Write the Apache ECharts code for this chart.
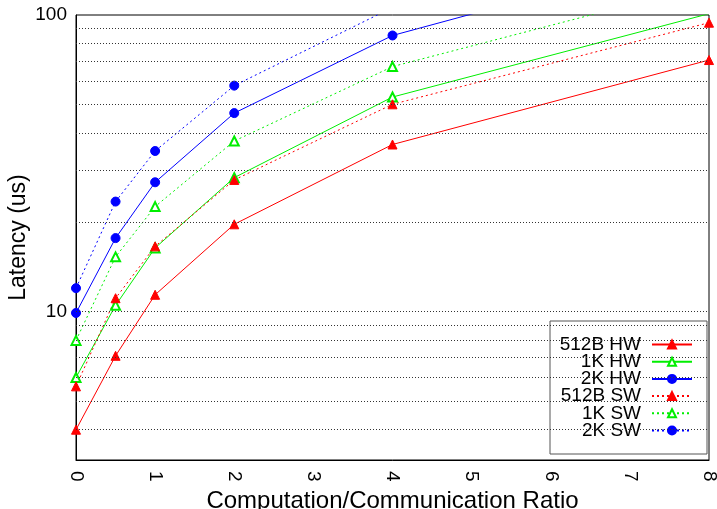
<!DOCTYPE html>
<html>
<head>
<meta charset="utf-8">
<script src="https://cdn.jsdelivr.net/npm/echarts@6/dist/echarts.min.js"></script>
<style>html,body{margin:0;padding:0;background:#fff;}#c{width:717px;height:509px;}</style>
</head>
<body>
<div id="c"></div>
<script>
// Data
const xValues = [0, 0.5, 1, 2, 4, 8];
const xTicks = [0, 1, 2, 3, 4, 5, 6, 7, 8];
const yGridValues = [4, 5, 6, 7, 8, 9, 10, 20, 30, 40, 50, 60, 70, 80, 90];
const seriesNames = ['512B HW', '1K HW', '2K HW', '512B SW', '1K SW', '2K SW'];
const hw512 = [4.0, 7.1, 11.4, 19.7, 36.6, 70.5];
const hw1k = [6.0, 10.5, 16.4, 28.3, 52.9, 101];
const hw2k = [9.9, 17.7, 27.3, 46.7, 85.3, 166];
const sw512 = [5.6, 11.1, 16.6, 27.8, 50.0, 94.2];
const sw1k = [8.0, 15.3, 22.6, 37.6, 67.0, 127];
const sw2k = [12.0, 23.5, 34.8, 57.8, 106, null];

const FONT = "'Liberation Sans', Arial, Helvetica, sans-serif";
const RED = '#ff0000', GREEN = '#00ee00', BLUE = '#0000ff';

function pairs(vals) {
  return xValues.map((x, i) => [x, vals[i]]);
}
function mk(name, vals, color, symbol, dashed) {
  return {
    name: name,
    type: 'line',
    data: pairs(vals),
    z: 3,
    clip: true,
    symbol: symbol,
    symbolSize: 9,
    showAllSymbol: true,
    connectNulls: false,
    lineStyle: { color: color, width: 1, type: dashed ? [2, 3] : 'solid' },
    itemStyle: { color: color, borderColor: color, borderWidth: 1 },
    emphasis: { disabled: true }
  };
}

const chart = echarts.init(document.getElementById('c'), null, { renderer: 'canvas' });
const option = {
  animation: false,
  backgroundColor: '#fff',
  textStyle: { fontFamily: FONT },
  grid: {
    left: 76, right: 8, top: 15, bottom: 49,
    containLabel: false, outerBoundsMode: 'none',
    show: true, borderColor: '#000', borderWidth: 1, backgroundColor: 'transparent'
  },
  xAxis: {
    type: 'value',
    min: xTicks[0], max: xTicks[xTicks.length - 1], interval: 1,
    name: 'Computation/Communication Ratio',
    nameLocation: 'middle', nameGap: 29,
    nameTextStyle: { fontSize: 24, color: '#000', fontFamily: FONT },
    axisLine: { show: true, lineStyle: { color: '#000', width: 1 } },
    axisTick: { show: false },
    splitLine: { show: false },
    axisLabel: { rotate: -90, margin: 11, fontSize: 19, color: '#000', fontFamily: FONT }
  },
  yAxis: {
    type: 'log', logBase: 10,
    min: 3.162, max: 100,
    name: 'Latency (us)',
    nameLocation: 'middle', nameGap: 46, nameMoveOverlap: false,
    nameTextStyle: { fontSize: 23, color: '#000', fontFamily: FONT },
    axisLine: { show: true, lineStyle: { color: '#000', width: 1 } },
    axisTick: { show: false },
    splitLine: { show: false },
    axisLabel: { showMinLabel: false, margin: 9, fontSize: 19, color: '#000', fontFamily: FONT }
  },
  legend: {
    data: seriesNames,
    orient: 'vertical',
    left: 550, top: 321,
    align: 'right',
    padding: [14, 14, 14, 9],
    itemGap: -1.8,
    itemWidth: 40, itemHeight: 10,
    backgroundColor: '#fff',
    borderColor: '#555', borderWidth: 1,
    selectedMode: false,
    formatter: function (n) { return '{n|' + n + '}'; },
    textStyle: {
      color: '#000', fontFamily: FONT, fontSize: 19, lineHeight: 17.2,
      rich: { n: { width: 82, align: 'right', padding: [0, 6, 0, 0], fontSize: 19, lineHeight: 17.2, fontFamily: FONT, color: '#000' } }
    }
  },
  series: [
    {
      name: 'grid', type: 'line', data: [], z: 1, silent: true,
      markLine: {
        silent: true, symbol: ['none', 'none'], animation: false,
        label: { show: false },
        lineStyle: { color: '#333', width: 1, type: [1, 2] },
        emphasis: { disabled: true },
        data: yGridValues.map(v => ({ yAxis: v }))
      }
    },
    mk(seriesNames[0], hw512, RED, 'triangle', false),
    mk(seriesNames[1], hw1k, GREEN, 'emptyTriangle', false),
    mk(seriesNames[2], hw2k, BLUE, 'circle', false),
    mk(seriesNames[3], sw512, RED, 'triangle', true),
    mk(seriesNames[4], sw1k, GREEN, 'emptyTriangle', true),
    mk(seriesNames[5], sw2k, BLUE, 'circle', true)
  ]
};
chart.setOption(option);
</script>
</body>
</html>
